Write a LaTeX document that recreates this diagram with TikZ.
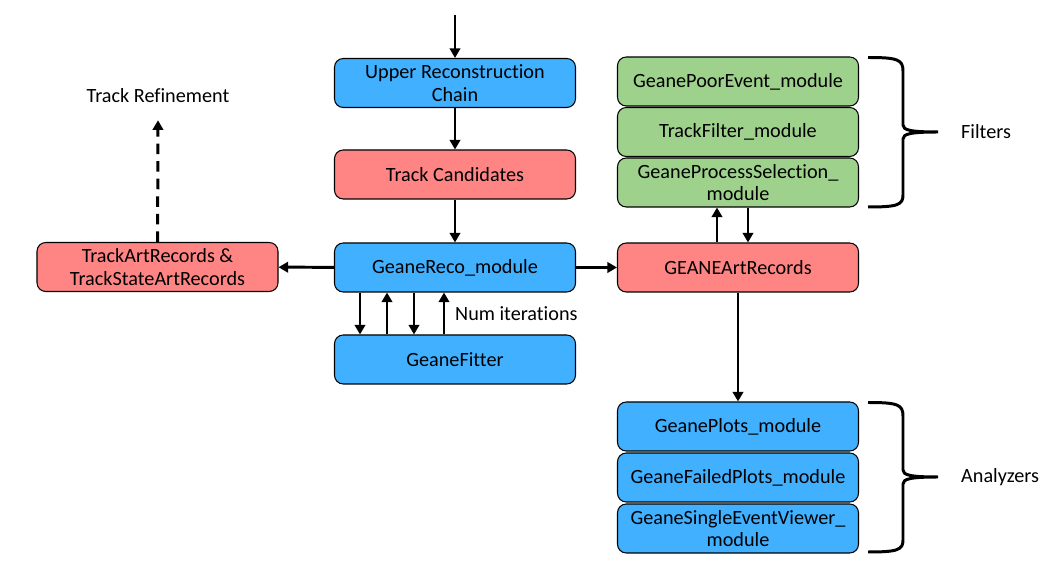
\documentclass[tikz,border=0pt]{standalone}
\usepackage{fontspec}
\setmainfont{Carlito}[Ligatures={NoCommon}]
\usetikzlibrary{arrows.meta}
\usetikzlibrary{positioning}
\usepackage{xcolor}
\definecolor{boxblue}{RGB}{64,176,255}
\definecolor{boxred}{RGB}{255,133,133}
\definecolor{boxgreen}{RGB}{158,210,140}

\begin{document}
\begin{tikzpicture}[scale=1, every node/.style={font=\fontsize{11.5}{13}\selectfont},
	modbox/.style={draw=black, line width=0.6pt, rounded corners=5pt, align=center, minimum width=4.82cm, minimum height=0.98cm, inner sep=1pt},
	arr/.style={line width=1.7pt, -{Triangle[length=5.5pt, width=6pt]}},
	brace/.style={line width=1.7pt}]
		\useasboundingbox (0,0) rectangle (21.26,-11.7);

		% 主链
		\coordinate (in) at (9.1,-0.3);
		\node[modbox, fill=boxblue] (urc) at (9.1,-1.66) {Upper Reconstruction\\Chain};
		\node[modbox, fill=boxred] (tc) at (9.1,-3.49) {Track Candidates};
		\node[modbox, fill=boxblue] (gr) at (9.1,-5.35) {GeaneReco\_module};
		\node[modbox, fill=boxblue] (gf) at (9.1,-7.19) {GeaneFitter};
		\draw[arr] (in) -- (urc);
		\draw[arr] (urc) -- (tc);
		\draw[arr] (tc) -- (gr);

		% 迭代
		\draw[arr] ([xshift=-1.9cm]gr.south) -- ([xshift=-1.9cm]gf.north);
		\draw[arr] ([xshift=-1.36cm]gf.north) -- ([xshift=-1.36cm]gr.south);
		\draw[arr] ([xshift=-0.82cm]gr.south) -- ([xshift=-0.82cm]gf.north);
		\draw[arr] ([xshift=-0.22cm]gf.north) -- ([xshift=-0.22cm]gr.south);
		\node[anchor=west] (iter) at (8.98,-6.28) {Num iterations};

		% 左侧
		\node[modbox, fill=boxred] (tar) at (3.15,-5.34) {TrackArtRecords \&\\TrackStateArtRecords};
		\node (tr) at (3.16,-1.92) {Track Refinement};
		\draw[arr] (gr) -- (tar);
		\draw[arr, dash pattern=on 6pt off 4pt] (tar) -- ([yshift=-0.22cm]tr.south);

		% 右侧
		\node[modbox, fill=boxred] (gar) at (14.76,-5.35) {GEANEArtRecords};
		\draw[arr] (gr) -- (gar);

		\node[modbox, fill=boxgreen] (poor) at (14.76,-1.63) {GeanePoorEvent\_module};
		\node[modbox, fill=boxgreen] (filt) at (14.76,-2.64) {TrackFilter\_module};
		\node[modbox, fill=boxgreen] (sel) at (14.76,-3.65) {GeaneProcessSelection\_\\module};
		\draw[arr] ([xshift=-0.42cm]gar.north) -- ([xshift=-0.42cm]sel.south);
		\draw[arr] ([xshift=0.2cm]sel.south) -- ([xshift=0.2cm]gar.north);

		\node[modbox, fill=boxblue] (plots) at (14.76,-8.53) {GeanePlots\_module};
		\node[modbox, fill=boxblue] (failed) at (14.76,-9.55) {GeaneFailedPlots\_module};
		\node[modbox, fill=boxblue] (viewer) at (14.76,-10.57) {GeaneSingleEventViewer\_\\module};
		\draw[arr] (gar) -- (plots);

		% 括号
		\foreach \dy/\name/\lbl in {0/filters/Filters, -6.9/analyzers/Analyzers}{
			\begin{scope}[yshift=\dy cm]
				\draw[brace] (17.36,-1.15) .. controls (17.95,-1.15) and (18.06,-1.19) .. (18.06,-1.42)
					-- (18.06,-2.5) .. controls (18.06,-2.6) and (18.2,-2.64) .. (18.76,-2.64)
					.. controls (18.2,-2.64) and (18.06,-2.68) .. (18.06,-2.78)
					-- (18.06,-3.9) .. controls (18.06,-4.1) and (17.95,-4.14) .. (17.36,-4.14);
				\node[anchor=west] (\name) at (19.1,-2.64) {\lbl};
			\end{scope}
		}
	\end{tikzpicture}
\end{document}
